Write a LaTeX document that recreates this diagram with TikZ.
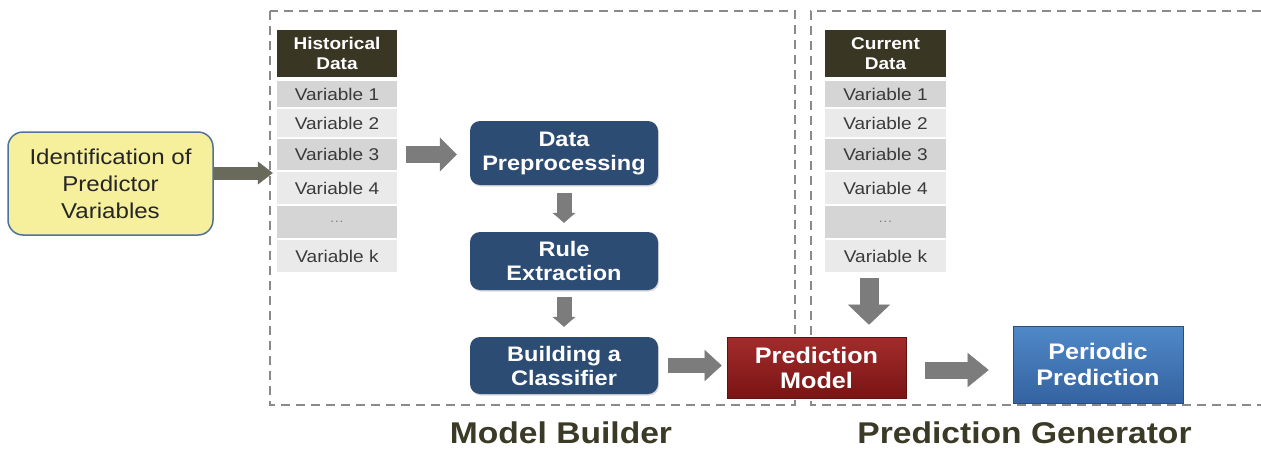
\documentclass[tikz,border=0pt]{standalone}
\usepackage{fontspec}
\setmainfont{Liberation Sans}[FakeStretch=1.12]
\usetikzlibrary{arrows.meta,shadows}
\definecolor{navy}{HTML}{2D4C74}
\definecolor{hdrc}{HTML}{3A3624}
\definecolor{rowdark}{HTML}{D5D5D5}
\definecolor{rowlight}{HTML}{EAEAEA}
\definecolor{rowtext}{HTML}{3A3A3A}
\definecolor{yel}{HTML}{F6EF9C}
\definecolor{yelborder}{HTML}{4E7399}
\definecolor{arrowgray}{HTML}{7C7C7C}
\definecolor{yarrowc}{HTML}{6A6A5C}
\definecolor{dashc}{HTML}{8A8A8A}
\definecolor{labelc}{HTML}{3A3A26}
\definecolor{redtop}{HTML}{A32C2C}
\definecolor{redbot}{HTML}{7A1414}
\definecolor{bluetop}{HTML}{5089C8}
\definecolor{bluebot}{HTML}{3462A0}
\begin{document}
\begin{tikzpicture}[x=1pt,y=-1pt,
  dashbox/.style={draw=dashc, line width=2pt, dash pattern=on 9pt off 6pt},
  hdr/.style={fill=hdrc, text=white, minimum width=120pt, inner sep=0pt, align=center,
    font=\fontsize{17}{20}\selectfont\bfseries},
  rowd/.style={fill=rowdark, text=rowtext, minimum width=120pt, inner sep=0pt,
    font=\fontsize{17}{20}\selectfont},
  rowl/.style={rowd, fill=rowlight},
  navybox/.style={fill=navy, text=white, rounded corners=10pt, minimum width=188pt,
    inner sep=0pt, align=center, font=\fontsize{21}{24}\selectfont\bfseries,
    drop shadow={opacity=0.3, shadow xshift=1pt, shadow yshift=-1.5pt}},
  garrow/.style n args={3}{arrowgray, line width=#1,
    -{Triangle[width=#2, length=#3, line width=0.5pt]}},
  seclabel/.style={text=labelc, inner sep=0pt, anchor=base,
    font=\fontsize{30}{34}\selectfont\bfseries},
]
\useasboundingbox (0,0) rectangle (1261,450);

% dashed frames
\draw[dashbox] (270,11) rectangle (795,405);
\draw[dashbox] (1261,11) -- (811,11) -- (811,405) -- (1261,405);

% identification box
\node[fill=yel, draw=yelborder, line width=1.5pt, rounded corners=15pt,
  minimum width=205pt, minimum height=103pt, inner sep=0pt, align=center,
  text=black!85, font=\fontsize{21.5}{27}\selectfont] (ident) at (110.5,183.5)
  {Identification of\\Predictor\\Variables};

% historical data table
\node[hdr, minimum height=47pt] (hh) at (337,53.5) {Historical\\Data};
\node[rowd, minimum height=26pt] (h1) at (337,94) {Variable 1};
\node[rowl, minimum height=28pt] (h2) at (337,123) {Variable 2};
\node[rowd, minimum height=31pt] (h3) at (337,154.5) {Variable 3};
\node[rowl, minimum height=32pt] (h4) at (337,188) {Variable 4};
\node[rowd, minimum height=32pt, text=gray, font=\fontsize{13}{16}\selectfont] (h5) at (337,222) {\dots};
\node[rowl, minimum height=32pt] (hk) at (337,256) {Variable k};

% current data table
\node[hdr, minimum height=47pt, minimum width=121pt] (ch) at (885.5,53.5) {Current\\Data};
\node[rowd, minimum height=26pt, minimum width=121pt] (c1) at (885.5,94) {Variable 1};
\node[rowl, minimum height=28pt, minimum width=121pt] (c2) at (885.5,123) {Variable 2};
\node[rowd, minimum height=31pt, minimum width=121pt] (c3) at (885.5,154.5) {Variable 3};
\node[rowl, minimum height=32pt, minimum width=121pt] (c4) at (885.5,188) {Variable 4};
\node[rowd, minimum height=32pt, minimum width=121pt, text=gray, font=\fontsize{13}{16}\selectfont] (c5) at (885.5,222) {\dots};
\node[rowl, minimum height=32pt, minimum width=121pt] (ck) at (885.5,256) {Variable k};

% process boxes
\node[navybox, minimum height=64pt] (dp) at (564,153) {Data\\Preprocessing};
\node[navybox, minimum height=58pt] (re) at (564,261) {Rule\\Extraction};
\node[navybox, minimum height=57pt] (bc) at (564,365.5) {Building a\\Classifier};

\node[top color=redtop, bottom color=redbot, draw=redbot!80!black, line width=0.6pt,
  minimum width=179pt, minimum height=61pt, inner sep=0pt, align=center, text=white,
  font=\fontsize{22.5}{25}\selectfont\bfseries] (pm) at (816.5,367.5) {Prediction\\Model};
\node[top color=bluetop, bottom color=bluebot, draw=bluebot!80!black, line width=0.6pt,
  minimum width=170pt, minimum height=77pt, inner sep=0pt, align=center, text=white,
  font=\fontsize{22.5}{26}\selectfont\bfseries] (per) at (1098,364.5) {Periodic\\Prediction};

% arrows
\draw[yarrowc, line width=13pt, -{Triangle[width=23pt, length=15pt, line width=0.5pt]},
  shorten >=4pt] ([yshift=10.5pt]ident.east) -- ([yshift=10.5pt]ident.east -| hh.west);
\draw[garrow={17pt}{34pt}{17pt}, shorten <=9pt, shorten >=13pt] (h3.east) -- (h3.east -| dp.west);
\draw[garrow={15pt}{23pt}{10pt}, shorten <=8pt, shorten >=9pt] (dp.south) -- (re.north);
\draw[garrow={15pt}{23pt}{10pt}, shorten <=7pt, shorten >=10pt] (re.south) -- (bc.north);
\draw[garrow={15pt}{31pt}{17pt}, shorten <=10pt, shorten >=5pt] (bc.east) -- (bc.east -| pm.west);
\draw[garrow={19pt}{42pt}{20pt}, shorten <=6pt, shorten >=12pt]
  ([xshift=-16.5pt]ck.south) -- ([xshift=-16.5pt]ck.south |- pm.north);
\draw[garrow={17pt}{34pt}{21pt}, shorten <=19pt, shorten >=24pt]
  ([yshift=-2.5pt]pm.east) -- ([yshift=-2.5pt]pm.east -| per.west);

% section labels
\node[seclabel] (lmb) at (561,443) {Model Builder};
\node[seclabel] (lpg) at (1024.5,443) {Prediction Generator};
\end{tikzpicture}
\end{document}
